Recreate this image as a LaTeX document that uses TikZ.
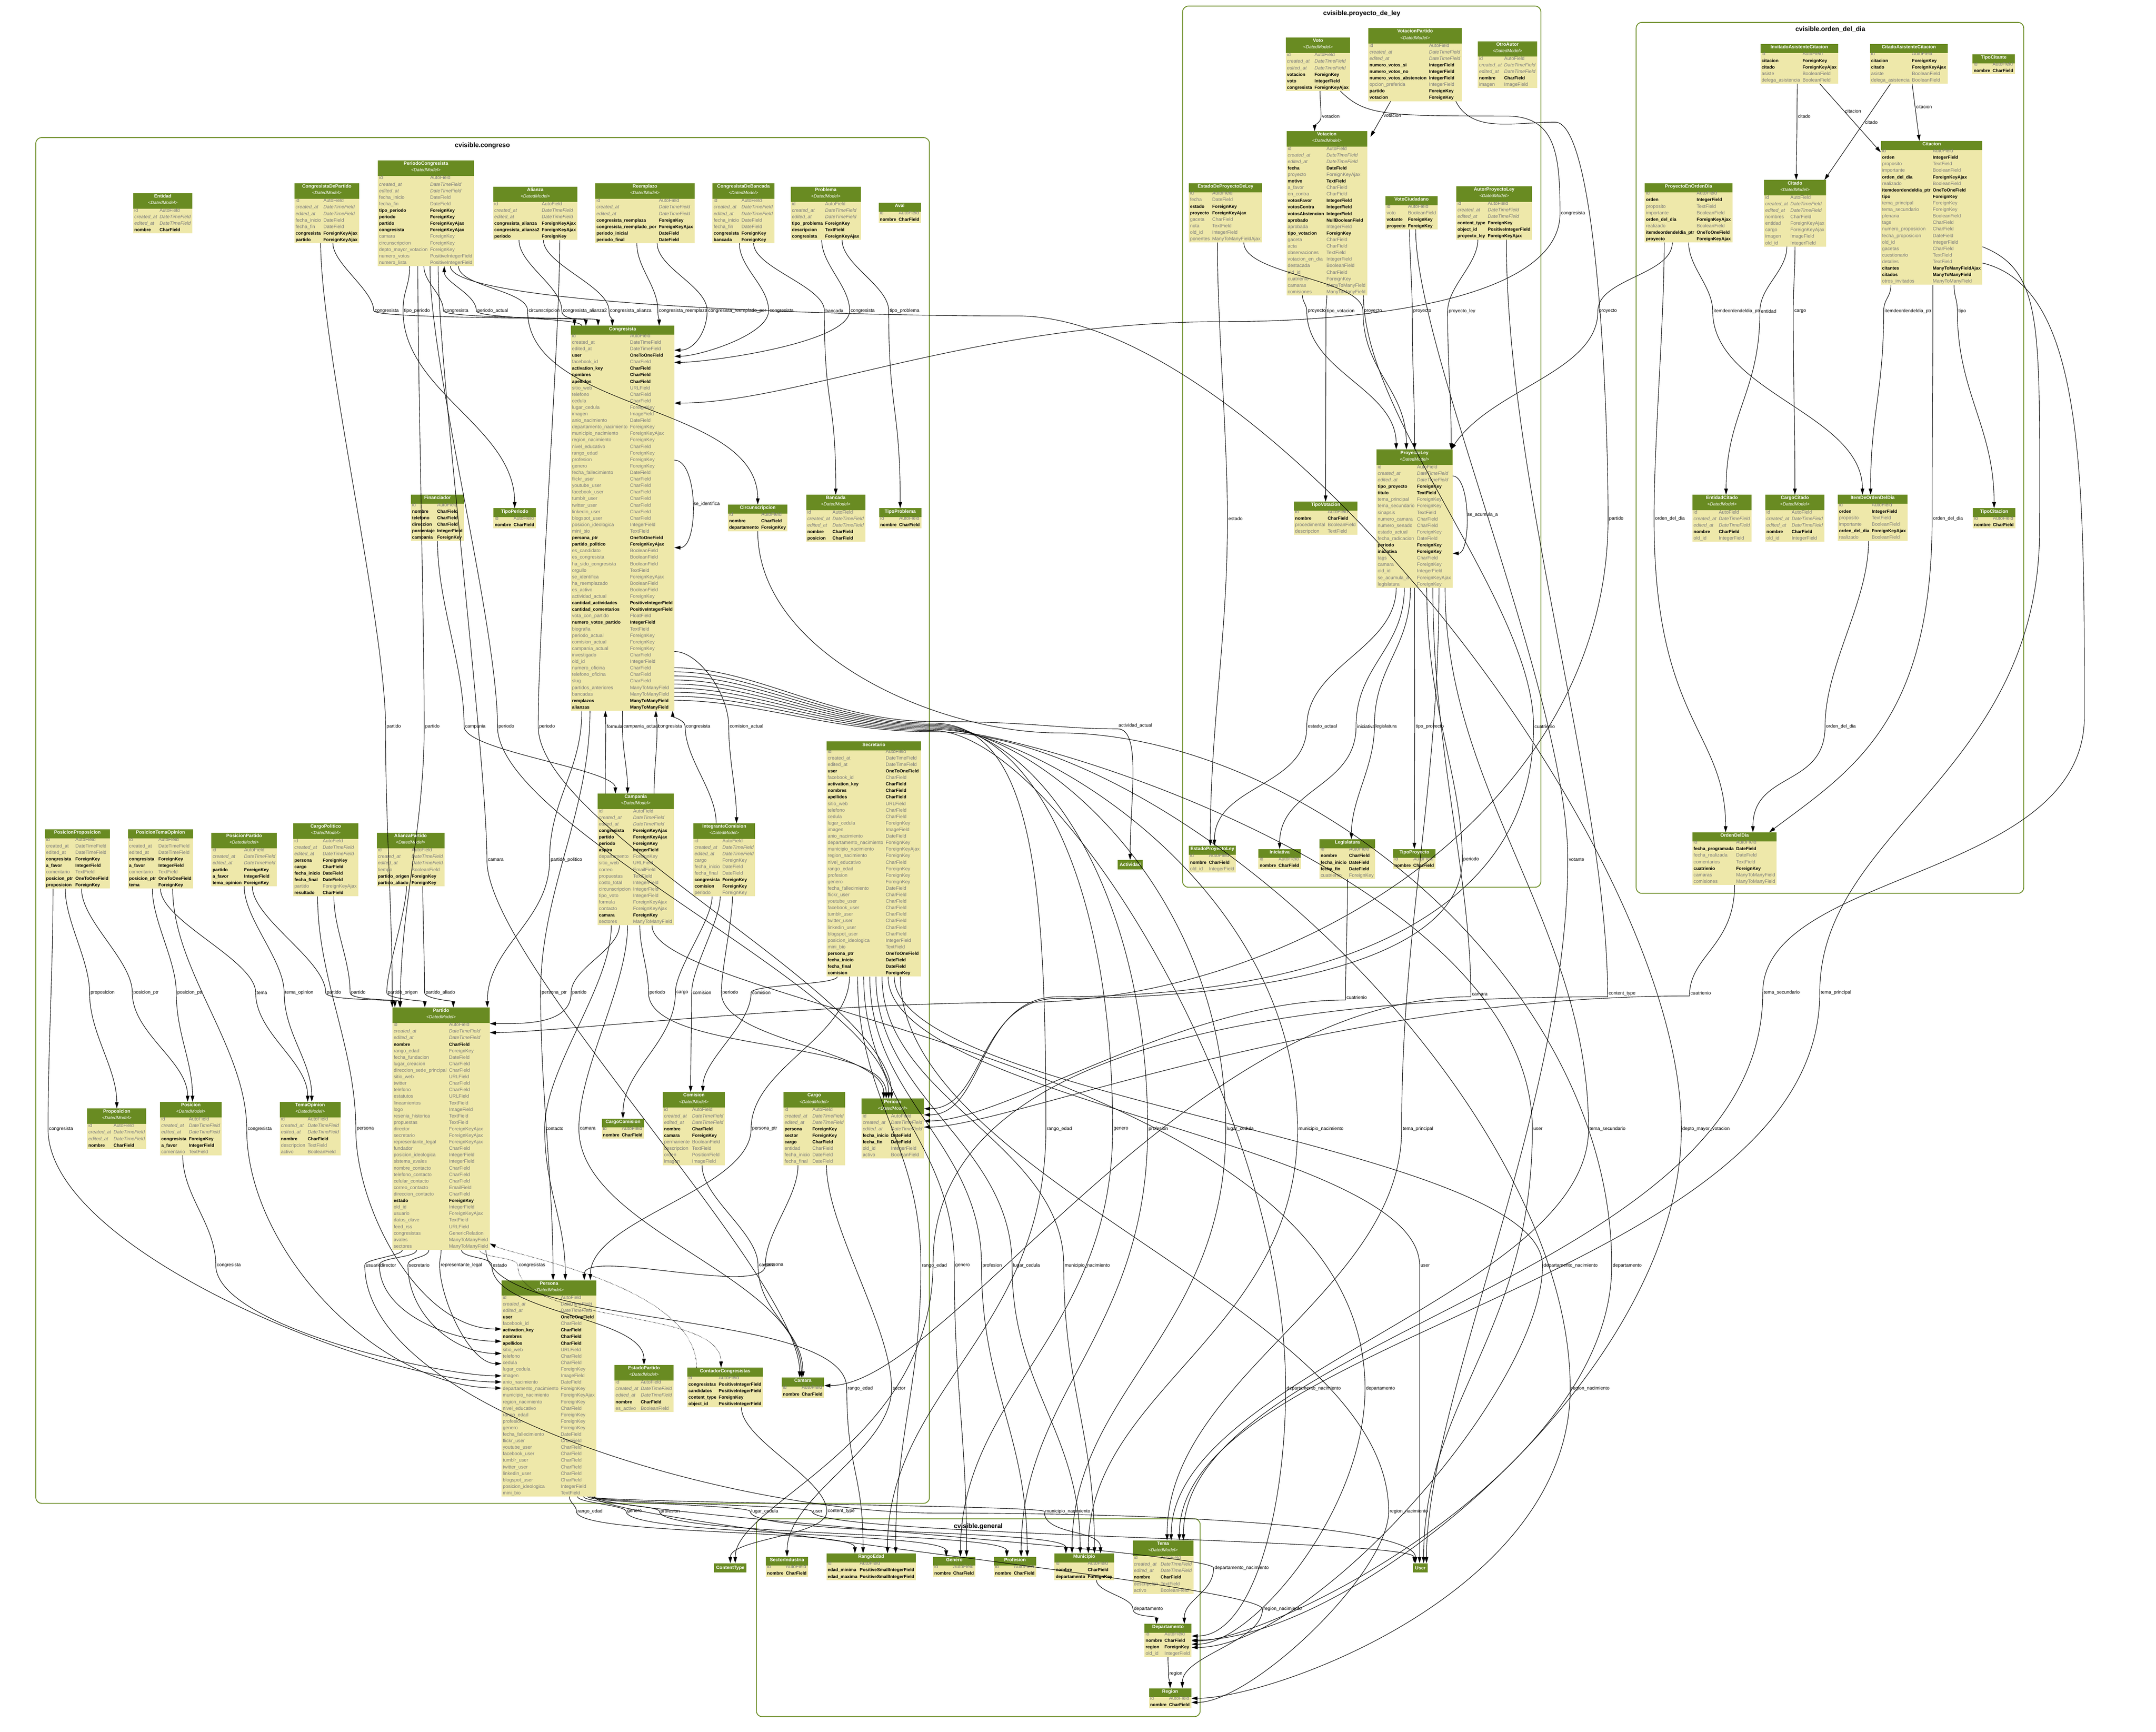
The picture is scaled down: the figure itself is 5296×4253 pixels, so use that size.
\documentclass[tikz,border=0pt]{standalone}
\usepackage{fontspec}
\setmainfont{Liberation Sans}
\usetikzlibrary{arrows.meta}
\definecolor{hdrc}{HTML}{698B22}
\definecolor{bodyc}{HTML}{EEE8AA}
\definecolor{fg}{HTML}{7B7B7B}
\newcommand\fgN{\color{fg}\fontsize{11.8}{16}\selectfont}
\newcommand\fbN{\fontsize{11}{16}\selectfont\bfseries}
\newcommand\mB[2]{{\fbN #1}&{\fbN #2}\\}
\newcommand\mG[2]{{\fgN #1}&{\fgN #2}\\}
\newcommand\mI[2]{{\fgN\itshape #1}&{\fgN\itshape #2}\\}
\newcommand\hA[1]{\multicolumn{2}{@{}c@{}}{\rule[-6pt]{0pt}{16pt}\color{white}\fontsize{11.5}{16}\selectfont\bfseries #1}\\}
\newcommand\hB[2]{\multicolumn{2}{@{}c@{}}{\rule[-3pt]{0pt}{14pt}\color{white}\fontsize{11.5}{16}\selectfont\bfseries #1}\\\multicolumn{2}{@{}c@{}}{\rule[-8pt]{0pt}{10pt}\color{white}\fontsize{11}{16}\selectfont\itshape <#2>}\\}
\newcommand\mtab[1]{\begin{tabular}{@{\hspace{3pt}}l@{\hspace{6pt}}l@{\hspace{4pt}}}#1\end{tabular}}
\newcommand\EdD[6]{\draw[fk] (#1) .. controls +(0,#5) and +(0,-#5) .. (#2) node[lbl]{#3} .. controls +(0,#6) and +(0,-#6) .. (#4);}
\newcommand\EdU[6]{\draw[fk] (#1) .. controls +(0,-#5) and +(0,#5) .. (#2) node[lbl]{#3} .. controls +(0,-#6) and +(0,#6) .. (#4);}
\newcommand\EdR[6]{\draw[fk] (#1) .. controls +(0,#5) and +(0,-#5) .. (#2) node[lbl]{#3} .. controls +(0,#6) and +(#6,0) .. (#4);}
\newcommand\EdL[6]{\draw[fk] (#1) .. controls +(0,#5) and +(0,-#5) .. (#2) node[lbl]{#3} .. controls +(0,#6) and +(-#6,0) .. (#4);}
% congresista bundle: start yshift, bundle y, label x, label y, label, target
\newcommand\EdB[6]{\draw[fk] ([yshift=-#1pt]cong.north east) .. controls +(200,0) and +(-250,0) .. (2290,#2) .. controls +(250,0) and +(0,-600) .. (#3,#4) node[lbl]{#5} .. controls +(0,500) and +(0,-400) .. (#6);}
\tikzset{
  tbl/.style={fill=bodyc, inner sep=0pt, anchor=north west, font=\fontsize{11.5}{16}\selectfont,
    path picture={\fill[hdrc] (path picture bounding box.north west) rectangle ([yshift=-#1]path picture bounding box.north east);}},
  tbl/.default=22pt,
  ext/.style={fill=hdrc, text=white, anchor=north west, font=\fontsize{11.5}{14}\selectfont\bfseries, inner xsep=5pt, inner ysep=0pt, minimum height=23pt},
  fk/.style={line width=1.2pt, -{Triangle[length=15pt,width=9pt]}},
  lbl/.style={anchor=west, inner sep=2pt, font=\fontsize{11.5}{13}\selectfont, text=black},
  lblup/.style={lbl, anchor=south west},
  clus/.style={draw=hdrc, line width=2pt, rounded corners=14pt},
  ctitle/.style={font=\fontsize{16}{20}\selectfont\bfseries}
}
\begin{document}
\catcode`\_=12
\newcommand\dated{\mG{id}{AutoField}\mI{created_at}{DateTimeField}\mI{edited_at}{DateTimeField}}
\newcommand\persbase{\mB{user}{OneToOneField}\mG{facebook_id}{CharField}\mB{activation_key}{CharField}\mB{nombres}{CharField}\mB{apellidos}{CharField}\mG{sitio_web}{URLField}\mG{telefono}{CharField}\mG{cedula}{CharField}\mG{lugar_cedula}{ForeignKey}\mG{imagen}{ImageField}\mG{anio_nacimiento}{DateField}\mG{departamento_nacimiento}{ForeignKey}\mG{municipio_nacimiento}{ForeignKeyAjax}\mG{region_nacimiento}{ForeignKey}\mG{nivel_educativo}{CharField}\mG{rango_edad}{ForeignKey}\mG{profesion}{ForeignKey}\mG{genero}{ForeignKey}\mG{fecha_fallecimiento}{DateField}\mG{flickr_user}{CharField}\mG{youtube_user}{CharField}\mG{facebook_user}{CharField}\mG{tumblr_user}{CharField}\mG{twitter_user}{CharField}\mG{linkedin_user}{CharField}\mG{blogspot_user}{CharField}\mG{posicion_ideologica}{IntegerField}\mG{mini_bio}{TextField}}
\begin{tikzpicture}[x=1pt,y=-1pt]
\useasboundingbox (0,0) rectangle (5296,4253);
\fill[white] (0,0) rectangle (5296,4253);
% ---------------- clusters
\draw[clus] (88,338) rectangle (2283,3692);
\node[ctitle] (tcong) at (1185,358) {cvisible.congreso};
\draw[clus] (2905,15) rectangle (3785,2179);
\node[ctitle] (tproyc) at (3345,33) {cvisible.proyecto_de_ley};
\draw[clus] (4019,55) rectangle (4971,2194);
\node[ctitle] (tordc) at (4496,72) {cvisible.orden_del_dia};
\draw[clus] (1858,3730) rectangle (2948,4216);
\node[ctitle] (tgenc) at (2403,3749) {cvisible.general};
% ---------------- congreso tables
\node[tbl=38pt] (ent) at (327,474) {\mtab{\hB{Entidad}{DatedModel}\dated\mB{nombre}{CharField}}};
\node[tbl=38pt] (cdp) at (723,450) {\mtab{\hB{CongresistaDePartido}{DatedModel}\dated\mG{fecha_inicio}{DateField}\mG{fecha_fin}{DateField}\mB{congresista}{ForeignKeyAjax}\mB{partido}{ForeignKeyAjax}}};
\node[tbl=38pt] (pc) at (928,394) {\mtab{\hB{PeriodoCongresista}{DatedModel}\dated\mG{fecha_inicio}{DateField}\mG{fecha_fin}{DateField}\mB{tipo_periodo}{ForeignKey}\mB{periodo}{ForeignKey}\mB{partido}{ForeignKeyAjax}\mB{congresista}{ForeignKeyAjax}\mG{camara}{ForeignKey}\mG{circunscripcion}{ForeignKey}\mG{depto_mayor_votacion}{ForeignKey}\mG{numero_votos}{PositiveIntegerField}\mG{numero_lista}{PositiveIntegerField}}};
\node[tbl=38pt] (ali) at (1211,458) {\mtab{\hB{Alianza}{DatedModel}\dated\mB{congresista_alianza}{ForeignKeyAjax}\mB{congresista_alianza2}{ForeignKeyAjax}\mB{periodo}{ForeignKey}}};
\node[tbl=38pt] (ree) at (1462,450) {\mtab{\hB{Reemplazo}{DatedModel}\dated\mB{congresista_reemplaza}{ForeignKey}\mB{congresista_reemplado_por}{ForeignKeyAjax}\mB{periodo_inicial}{DateField}\mB{periodo_final}{DateField}}};
\node[tbl=38pt] (cdb) at (1750,450) {\mtab{\hB{CongresistaDeBancada}{DatedModel}\dated\mG{fecha_inicio}{DateField}\mG{fecha_fin}{DateField}\mB{congresista}{ForeignKey}\mB{bancada}{ForeignKey}}};
\node[tbl=38pt] (prob) at (1942,458) {\mtab{\hB{Problema}{DatedModel}\dated\mB{tipo_problema}{ForeignKey}\mB{descripcion}{TextField}\mB{congresista}{ForeignKeyAjax}}};
\node[tbl] (aval) at (2158,498) {\mtab{\hA{Aval}\mG{id}{AutoField}\mB{nombre}{CharField}}};
\node[tbl] (cong) at (1402,800) {\mtab{\hA{Congresista}\mG{id}{AutoField}\mG{created_at}{DateTimeField}\mG{edited_at}{DateTimeField}\persbase\mB{persona_ptr}{OneToOneField}\mB{partido_politico}{ForeignKeyAjax}\mG{es_candidato}{BooleanField}\mG{es_congresista}{BooleanField}\mG{ha_sido_congresista}{BooleanField}\mG{orgullo}{TextField}\mG{se_identifica}{ForeignKeyAjax}\mG{ha_reemplazado}{BooleanField}\mG{es_activo}{BooleanField}\mG{actividad_actual}{ForeignKey}\mB{cantidad_actividades}{PositiveIntegerField}\mB{cantidad_comentarios}{PositiveIntegerField}\mG{vota_con_partido}{FloatField}\mB{numero_votos_partido}{IntegerField}\mG{biografia}{TextField}\mG{periodo_actual}{ForeignKey}\mG{comision_actual}{ForeignKey}\mG{campania_actual}{ForeignKey}\mG{investigado}{CharField}\mG{old_id}{IntegerField}\mG{numero_oficina}{CharField}\mG{telefono_oficina}{CharField}\mG{slug}{CharField}\mG{partidos_anteriores}{ManyToManyField}\mG{bancadas}{ManyToManyField}\mB{remplazos}{ManyToManyField}\mB{alianzas}{ManyToManyField}}};
\node[tbl] (fin) at (1009,1215) {\mtab{\hA{Financiador}\mG{id}{AutoField}\mB{nombre}{CharField}\mB{telefono}{CharField}\mB{direccion}{CharField}\mB{porcentaje}{IntegerField}\mB{campania}{ForeignKey}}};
\node[tbl] (tper) at (1212,1248) {\mtab{\hA{TipoPeriodo}\mG{id}{AutoField}\mB{nombre}{CharField}}};
\node[tbl] (circ) at (1788,1239) {\mtab{\hA{Circunscripcion}\mG{id}{AutoField}\mB{nombre}{CharField}\mB{departamento}{ForeignKey}}};
\node[tbl=38pt] (banc) at (1980,1215) {\mtab{\hB{Bancada}{DatedModel}\dated\mB{nombre}{CharField}\mB{posicion}{CharField}}};
\node[tbl] (tprob) at (2159,1248) {\mtab{\hA{TipoProblema}\mG{id}{AutoField}\mB{nombre}{CharField}}};
\node[tbl=38pt] (camp) at (1468,1949) {\mtab{\hB{Campania}{DatedModel}\dated\mB{congresista}{ForeignKeyAjax}\mB{partido}{ForeignKeyAjax}\mB{periodo}{ForeignKey}\mB{aspira}{IntegerField}\mG{departamento}{ForeignKey}\mG{sitio_web}{URLField}\mG{correo}{EmailField}\mG{propuestas}{TextField}\mG{costo_total}{IntegerField}\mG{circunscripcion}{IntegerField}\mG{tipo_voto}{IntegerField}\mG{formula}{ForeignKeyAjax}\mG{contacto}{ForeignKeyAjax}\mB{camara}{ForeignKey}\mG{sectores}{ManyToManyField}}};
\node[tbl=38pt] (icom) at (1703,2022) {\mtab{\hB{IntegranteComision}{DatedModel}\dated\mG{cargo}{ForeignKey}\mG{fecha_inicio}{DateField}\mG{fecha_final}{DateField}\mB{congresista}{ForeignKey}\mB{comision}{ForeignKey}\mG{periodo}{ForeignKey}}};
\node[tbl] (sec) at (2030,1821) {\mtab{\hA{Secretario}\mG{id}{AutoField}\mG{created_at}{DateTimeField}\mG{edited_at}{DateTimeField}\persbase\mB{persona_ptr}{OneToOneField}\mB{fecha_inicio}{DateField}\mB{fecha_final}{DateField}\mB{comision}{ForeignKey}}};
\node[tbl] (pprop) at (110,2037) {\mtab{\hA{PosicionProposicion}\mG{id}{AutoField}\mG{created_at}{DateTimeField}\mG{edited_at}{DateTimeField}\mB{congresista}{ForeignKey}\mB{a_favor}{IntegerField}\mG{comentario}{TextField}\mB{posicion_ptr}{OneToOneField}\mB{proposicion}{ForeignKey}}};
\node[tbl] (ptem) at (314,2037) {\mtab{\hA{PosicionTemaOpinion}\mG{id}{AutoField}\mG{created_at}{DateTimeField}\mG{edited_at}{DateTimeField}\mB{congresista}{ForeignKey}\mB{a_favor}{IntegerField}\mG{comentario}{TextField}\mB{posicion_ptr}{OneToOneField}\mB{tema}{ForeignKey}}};
\node[tbl=38pt] (ppar) at (519,2045) {\mtab{\hB{PosicionPartido}{DatedModel}\dated\mB{partido}{ForeignKey}\mB{a_favor}{IntegerField}\mB{tema_opinion}{ForeignKey}}};
\node[tbl=38pt] (cpol) at (720,2022) {\mtab{\hB{CargoPolitico}{DatedModel}\dated\mB{persona}{ForeignKey}\mB{cargo}{CharField}\mB{fecha_inicio}{DateField}\mB{fecha_final}{DateField}\mG{partido}{ForeignKeyAjax}\mB{resultado}{CharField}}};
\node[tbl=38pt] (apar) at (925,2045) {\mtab{\hB{AlianzaPartido}{DatedModel}\dated\mG{tiempo}{BooleanField}\mB{partido_origen}{ForeignKey}\mB{partido_aliado}{ForeignKey}}};
\node[tbl=38pt] (prop) at (214,2722) {\mtab{\hB{Proposicion}{DatedModel}\dated\mB{nombre}{CharField}}};
\node[tbl=38pt] (pos) at (393,2706) {\mtab{\hB{Posicion}{DatedModel}\dated\mB{congresista}{ForeignKey}\mB{a_favor}{IntegerField}\mG{comentario}{TextField}}};
\node[tbl=38pt] (temop) at (687,2706) {\mtab{\hB{TemaOpinion}{DatedModel}\dated\mB{nombre}{CharField}\mG{descripcion}{TextField}\mG{activo}{BooleanField}}};
\node[tbl=38pt] (part) at (964,2474) {\mtab{\hB{Partido}{DatedModel}\dated\mB{nombre}{CharField}\mG{rango_edad}{ForeignKey}\mG{fecha_fundacion}{DateField}\mG{lugar_creacion}{CharField}\mG{direccion_sede_principal}{CharField}\mG{sitio_web}{URLField}\mG{twitter}{CharField}\mG{telefono}{CharField}\mG{estatutos}{URLField}\mG{lineamientos}{TextField}\mG{logo}{ImageField}\mG{resenia_historica}{TextField}\mG{propuestas}{TextField}\mG{director}{ForeignKeyAjax}\mG{secretario}{ForeignKeyAjax}\mG{representante_legal}{ForeignKeyAjax}\mG{fundador}{CharField}\mG{posicion_ideologica}{IntegerField}\mG{sistema_avales}{IntegerField}\mG{nombre_contacto}{CharField}\mG{telefono_contacto}{CharField}\mG{celular_contacto}{CharField}\mG{correo_contacto}{EmailField}\mG{direccion_contacto}{CharField}\mB{estado}{ForeignKey}\mG{old_id}{IntegerField}\mG{usuario}{ForeignKeyAjax}\mG{datos_clave}{TextField}\mG{feed_rss}{URLField}\mG{congresistas}{GenericRelation}\mG{avales}{ManyToManyField}\mG{sectores}{ManyToManyField}}};
\node[tbl] (ccom) at (1478,2747) {\mtab{\hA{CargoComision}\mG{id}{AutoField}\mB{nombre}{CharField}}};
\node[tbl=38pt] (com) at (1628,2682) {\mtab{\hB{Comision}{DatedModel}\dated\mB{nombre}{CharField}\mB{camara}{ForeignKey}\mG{permanente}{BooleanField}\mG{descripcion}{TextField}\mG{orden}{PositionField}\mG{imagen}{ImageField}}};
\node[tbl=38pt] (cargo) at (1924,2682) {\mtab{\hB{Cargo}{DatedModel}\dated\mB{persona}{ForeignKey}\mB{sector}{ForeignKey}\mB{cargo}{CharField}\mG{entidad}{CharField}\mG{fecha_inicio}{DateField}\mG{fecha_final}{DateField}}};
\node[tbl=38pt] (per) at (2116,2698) {\mtab{\hB{Periodo}{DatedModel}\dated\mB{fecha_inicio}{DateField}\mB{fecha_fin}{DateField}\mG{old_id}{IntegerField}\mG{activo}{BooleanField}}};
\node[tbl=38pt] (pers) at (1232,3144) {\mtab{\hB{Persona}{DatedModel}\dated\persbase}};
\node[tbl=38pt] (epar) at (1509,3352) {\mtab{\hB{EstadoPartido}{DatedModel}\dated\mB{nombre}{CharField}\mG{es_activo}{BooleanField}}};
\node[tbl] (ccong) at (1688,3359) {\mtab{\hA{ContadorCongresistas}\mG{id}{AutoField}\mB{congresistas}{PositiveIntegerField}\mB{candidatos}{PositiveIntegerField}\mB{content_type}{ForeignKey}\mB{object_id}{PositiveIntegerField}}};
\node[tbl] (cam) at (1920,3383) {\mtab{\hA{Camara}\mG{id}{AutoField}\mB{nombre}{CharField}}};
% external
\node[ext] (act) at (2745,2112) {Actividad};
\node[ext] (ctype) at (1754,3839) {ContentType};
\node[ext] (user) at (3471,3839) {User};
% ---------------- general
\node[tbl] (sind) at (1881,3823) {\mtab{\hA{SectorIndustria}\mG{id}{AutoField}\mB{nombre}{CharField}}};
\node[tbl] (redad) at (2030,3815) {\mtab{\hA{RangoEdad}\mG{id}{AutoField}\mB{edad_minima}{PositiveSmallIntegerField}\mB{edad_maxima}{PositiveSmallIntegerField}}};
\node[tbl] (gen) at (2292,3823) {\mtab{\hA{Genero}\mG{id}{AutoField}\mB{nombre}{CharField}}};
\node[tbl] (prof) at (2441,3823) {\mtab{\hA{Profesion}\mG{id}{AutoField}\mB{nombre}{CharField}}};
\node[tbl] (mun) at (2590,3815) {\mtab{\hA{Municipio}\mG{id}{AutoField}\mB{nombre}{CharField}\mB{departamento}{ForeignKey}}};
\node[tbl=38pt] (tema) at (2782,3783) {\mtab{\hB{Tema}{DatedModel}\dated\mB{nombre}{CharField}\mG{descripcion}{TextField}\mG{activo}{BooleanField}}};
\node[tbl] (dep) at (2811,3988) {\mtab{\hA{Departamento}\mG{id}{AutoField}\mB{nombre}{CharField}\mB{region}{ForeignKey}\mG{old_id}{IntegerField}}};
\node[tbl] (reg) at (2822,4146) {\mtab{\hA{Region}\mG{id}{AutoField}\mB{nombre}{CharField}}};
% ---------------- proyecto_de_ley
\node[tbl=38pt] (voto) at (3158,92) {\mtab{\hB{Voto}{DatedModel}\dated\mB{votacion}{ForeignKey}\mB{voto}{IntegerField}\mB{congresista}{ForeignKeyAjax}}};
\node[tbl=38pt] (vpar) at (3361,69) {\mtab{\hB{VotacionPartido}{DatedModel}\dated\mB{numero_votos_si}{IntegerField}\mB{numero_votos_no}{IntegerField}\mB{numero_votos_abstencion}{IntegerField}\mG{opcion_preferida}{IntegerField}\mB{partido}{ForeignKey}\mB{votacion}{ForeignKey}}};
\node[tbl=38pt] (oaut) at (3630,101) {\mtab{\hB{OtroAutor}{DatedModel}\dated\mB{nombre}{CharField}\mG{imagen}{ImageField}}};
\node[tbl=38pt] (vtc) at (3160,322) {\mtab{\hB{Votacion}{DatedModel}\dated\mB{fecha}{DateField}\mG{proyecto}{ForeignKeyAjax}\mB{motivo}{TextField}\mG{a_favor}{CharField}\mG{en_contra}{CharField}\mB{votosFavor}{IntegerField}\mB{votosContra}{IntegerField}\mB{votosAbstencion}{IntegerField}\mB{aprobado}{NullBooleanField}\mG{aprobada}{IntegerField}\mB{tipo_votacion}{ForeignKey}\mG{gaceta}{CharField}\mG{acta}{CharField}\mG{observaciones}{TextField}\mG{votacion_en_dia}{IntegerField}\mG{destacada}{BooleanField}\mG{old_id}{CharField}\mG{cuatrienio}{ForeignKey}\mG{camaras}{ManyToManyField}\mG{comisiones}{ManyToManyField}}};
\node[tbl] (edpl) at (2920,450) {\mtab{\hA{EstadoDeProyectoDeLey}\mG{id}{AutoField}\mG{fecha}{DateField}\mB{estado}{ForeignKey}\mB{proyecto}{ForeignKeyAjax}\mG{gaceta}{CharField}\mG{nota}{TextField}\mG{old_id}{IntegerField}\mG{ponentes}{ManyToManyFieldAjax}}};
\node[tbl] (vciu) at (3403,482) {\mtab{\hA{VotoCiudadano}\mG{id}{AutoField}\mG{voto}{BooleanField}\mB{votante}{ForeignKey}\mB{proyecto}{ForeignKey}}};
\node[tbl=38pt] (apl) at (3577,457) {\mtab{\hB{AutorProyectoLey}{DatedModel}\dated\mB{content_type}{ForeignKey}\mB{object_id}{PositiveIntegerField}\mB{proyecto_ley}{ForeignKeyAjax}}};
\node[tbl=38pt] (pley) at (3381,1104) {\mtab{\hB{ProyectoLey}{DatedModel}\dated\mB{tipo_proyecto}{ForeignKey}\mB{titulo}{TextField}\mG{tema_principal}{ForeignKey}\mG{tema_secundario}{ForeignKey}\mG{sinapsis}{TextField}\mG{numero_camara}{CharField}\mG{numero_senado}{CharField}\mG{estado_actual}{ForeignKey}\mG{fecha_radicacion}{DateField}\mB{periodo}{ForeignKey}\mB{iniciativa}{ForeignKey}\mG{tags}{CharField}\mG{camara}{ForeignKey}\mG{old_id}{IntegerField}\mG{se_acumula_a}{ForeignKeyAjax}\mG{legislatura}{ForeignKey}}};
\node[tbl] (tvot) at (3178,1232) {\mtab{\hA{TipoVotacion}\mG{id}{AutoField}\mB{nombre}{CharField}\mG{procedimental}{BooleanField}\mG{descripcion}{TextField}}};
\node[tbl] (epl) at (2920,2077) {\mtab{\hA{EstadoProyectoLey}\mG{id}{AutoField}\mB{nombre}{CharField}\mG{old_id}{IntegerField}}};
\node[tbl] (inic) at (3091,2085) {\mtab{\hA{Iniciativa}\mG{id}{AutoField}\mB{nombre}{CharField}}};
\node[tbl] (leg) at (3241,2061) {\mtab{\hA{Legislatura}\mG{id}{AutoField}\mB{nombre}{CharField}\mB{fecha_inicio}{DateField}\mB{fecha_fin}{DateField}\mG{cuatrienio}{ForeignKey}}};
\node[tbl] (tproy) at (3422,2085) {\mtab{\hA{TipoProyecto}\mG{id}{AutoField}\mB{nombre}{CharField}}};
% ---------------- orden_del_dia
\node[tbl] (iac) at (4324,108) {\mtab{\hA{InvitadoAsistenteCitacion}\mG{id}{AutoField}\mB{citacion}{ForeignKey}\mB{citado}{ForeignKeyAjax}\mG{asiste}{BooleanField}\mG{delega_asistencia}{BooleanField}}};
\node[tbl] (cac) at (4593,108) {\mtab{\hA{CitadoAsistenteCitacion}\mG{id}{AutoField}\mB{citacion}{ForeignKey}\mB{citado}{ForeignKeyAjax}\mG{asiste}{BooleanField}\mG{delega_asistencia}{BooleanField}}};
\node[tbl] (tcit) at (4845,133) {\mtab{\hA{TipoCitante}\mG{id}{AutoField}\mB{nombre}{CharField}}};
\node[tbl] (cita) at (4620,346) {\mtab{\hA{Citacion}\mG{id}{AutoField}\mB{orden}{IntegerField}\mG{proposito}{TextField}\mG{importante}{BooleanField}\mB{orden_del_dia}{ForeignKeyAjax}\mG{realizado}{BooleanField}\mB{itemdeordendeldia_ptr}{OneToOneField}\mB{tipo}{ForeignKey}\mG{tema_principal}{ForeignKey}\mG{tema_secundario}{ForeignKey}\mG{plenaria}{BooleanField}\mG{tags}{CharField}\mG{numero_proposicion}{CharField}\mG{fecha_proposicion}{DateField}\mG{old_id}{IntegerField}\mG{gacetas}{CharField}\mG{cuestionario}{TextField}\mG{detalles}{TextField}\mB{citantes}{ManyToManyFieldAjax}\mB{citados}{ManyToManyField}\mG{otros_invitados}{ManyToManyField}}};
\node[tbl=38pt] (citado) at (4333,442) {\mtab{\hB{Citado}{DatedModel}\dated\mG{nombres}{CharField}\mG{entidad}{ForeignKeyAjax}\mG{cargo}{ForeignKeyAjax}\mG{imagen}{ImageField}\mG{old_id}{IntegerField}}};
\node[tbl] (pod) at (4040,450) {\mtab{\hA{ProyectoEnOrdenDia}\mG{id}{AutoField}\mB{orden}{IntegerField}\mG{proposito}{TextField}\mG{importante}{BooleanField}\mB{orden_del_dia}{ForeignKeyAjax}\mG{realizado}{BooleanField}\mB{itemdeordendeldia_ptr}{OneToOneField}\mB{proyecto}{ForeignKeyAjax}}};
\node[tbl=38pt] (entc) at (4157,1215) {\mtab{\hB{EntidadCitado}{DatedModel}\dated\mB{nombre}{CharField}\mG{old_id}{IntegerField}}};
\node[tbl=38pt] (carc) at (4336,1215) {\mtab{\hB{CargoCitado}{DatedModel}\dated\mB{nombre}{CharField}\mG{old_id}{IntegerField}}};
\node[tbl] (item) at (4514,1215) {\mtab{\hA{ItemDeOrdenDelDia}\mG{id}{AutoField}\mB{orden}{IntegerField}\mG{proposito}{TextField}\mG{importante}{BooleanField}\mB{orden_del_dia}{ForeignKeyAjax}\mG{realizado}{BooleanField}}};
\node[tbl] (tcitn) at (4846,1248) {\mtab{\hA{TipoCitacion}\mG{id}{AutoField}\mB{nombre}{CharField}}};
\node[tbl] (odd) at (4157,2044) {\mtab{\hA{OrdenDelDia}\mG{id}{AutoField}\mB{fecha_programada}{DateField}\mG{fecha_realizada}{DateField}\mG{comentarios}{TextField}\mB{cuatrienio}{ForeignKey}\mG{camaras}{ManyToManyField}\mG{comisiones}{ManyToManyField}}};
% =============== EDGES: congreso top row
\EdD{[xshift=15pt]cdp.south}{918,763}{congresista}{[xshift=-90pt]cong.north}{50}{20}
\EdD{[xshift=-40pt]pc.south}{990,763}{tipo_periodo}{tper.north}{50}{200}
\EdD{[xshift=-5pt]pc.south}{1089,763}{congresista}{[xshift=-60pt]cong.north}{40}{20}
\EdU{[xshift=-100pt]cong.north}{1170,763}{periodo_actual}{[xshift=45pt]pc.south}{20}{40}
\EdD{[xshift=80pt]pc.south}{1296,763}{circunscripcion}{circ.north}{50}{250}
\EdD{[xshift=-40pt]ali.south}{1380,763}{congresista_alianza2}{[xshift=-118pt]cong.north}{60}{20}
\EdD{[xshift=20pt]ali.south}{1496,763}{congresista_alianza}{[xshift=-25pt]cong.north}{60}{20}
\EdD{[xshift=-20pt]ree.south}{1616,763}{congresista_reemplaza}{[xshift=90pt]cong.north}{60}{20}
\EdR{[xshift=30pt]ree.south}{1737,763}{congresista_reemplado_por}{[yshift=-60pt]cong.north east}{60}{50}
\EdR{[xshift=-10pt]cdb.south}{1888,763}{congresista}{[yshift=-75pt]cong.north east}{60}{60}
\EdD{[xshift=25pt]cdb.south}{2025,763}{bancada}{banc.north}{60}{250}
\EdR{[xshift=-10pt]prob.south}{2087,763}{congresista}{[yshift=-90pt]cong.north east}{60}{80}
\EdD{[xshift=40pt]prob.south}{2183,763}{tipo_problema}{tprob.north}{60}{250}
\EdD{[xshift=-15pt]cdp.south}{947,1784}{partido}{[xshift=-120pt]part.north}{250}{250}
\EdD{[xshift=-20pt]pc.south}{1042,1784}{partido}{[xshift=-100pt]part.north}{250}{250}
\EdD{fin.south}{1140,1784}{campania}{[xshift=-50pt]camp.north}{150}{60}
\EdD{[xshift=10pt]pc.south}{1222,1784}{periodo}{[xshift=-10pt]per.north}{250}{250}
\EdD{[xshift=60pt]ali.south}{1322,1784}{periodo}{[xshift=-3pt]per.north}{250}{250}
\EdD{[xshift=30pt]pc.south}{1196,2112}{camara}{[xshift=-8pt]cam.north}{250}{250}
\draw[fk] ([xshift=60pt]pc.south) .. controls +(0,90) and +(-500,0) .. (2500,776) .. controls +(600,0) and +(0,-700) .. (4130,2773) node[lbl]{depto_mayor_votacion} .. controls +(0,600) and +(400,0) .. ([yshift=-40pt]dep.north east);
% Congresista own relations
\draw[fk] ([yshift=-330pt]cong.north east) .. controls +(60,0) and +(60,0) .. node[lbl,pos=0.5]{se_identifica} ([yshift=-545pt]cong.north east);
\EdD{[xshift=-100pt]cong.south}{1350,2112}{partido_politico}{[xshift=-6pt]part.north east}{150}{150}
\EdD{[xshift=-80pt]cong.south}{1328,2438}{persona_ptr}{[xshift=10pt]pers.north}{250}{250}
\EdD{cong.south}{1529,1784}{campania_actual}{[xshift=-20pt]camp.north}{15}{60}
\EdU{[xshift=-75pt]camp.north}{1488,1784}{formula}{[xshift=-42pt]cong.south}{60}{15}
\EdU{[xshift=45pt]camp.north}{1614,1784}{congresista}{[xshift=82pt]cong.south}{60}{15}
\EdU{[xshift=-20pt]icom.north}{1683,1784}{congresista}{[xshift=-4pt]cong.south east}{80}{15}
\draw[fk] ([yshift=-800pt]cong.north east) .. controls +(60,0) and +(0,-80) .. (1790,1784) node[lbl]{comision_actual} .. controls +(0,80) and +(0,-80) .. ([xshift=30pt]icom.north);
\draw[fk] ([yshift=-840pt]cong.north east) .. controls +(200,0) and +(-250,0) .. (2290,1772) .. controls +(250,0) and +(-150,0) .. (2745,1790) node[lblup]{actividad_actual} .. controls +(60,0) and +(0,-150) .. (act.north);
\EdB{850}{1776}{2569}{2773}{rango_edad}{[xshift=40pt]redad.north}
\EdB{860}{1779}{2733}{2773}{genero}{[xshift=15pt]gen.north}
\EdB{870}{1782}{2819}{2773}{profesion}{[xshift=15pt]prof.north}
\EdB{880}{1785}{3011}{2773}{lugar_cedula}{[xshift=-30pt]mun.north}
\EdB{890}{1788}{3187}{2773}{municipio_nacimiento}{[xshift=10pt]mun.north}
\EdB{900}{1791}{3764}{2773}{user}{[xshift=8pt]user.north}
\draw[fk] ([yshift=-910pt]cong.north east) .. controls +(200,0) and +(-250,0) .. (2290,1794) .. controls +(300,0) and +(0,-700) .. (3158,3410) node[lbl]{departamento_nacimiento} .. controls +(0,300) and +(150,0) .. ([yshift=-30pt]dep.north east);
\draw[fk] ([yshift=-920pt]cong.north east) .. controls +(200,0) and +(-250,0) .. (2290,1797) .. controls +(600,0) and +(0,-700) .. (3857,3410) node[lbl]{region_nacimiento} .. controls +(0,500) and +(200,0) .. ([yshift=-25pt]reg.north east);
% Campania, IntegranteComision, Secretario
\EdR{[xshift=-40pt]camp.south}{1403,2438}{partido}{[yshift=-40pt]part.north east}{60}{80}
\EdD{[xshift=10pt]camp.south}{1593,2438}{periodo}{[xshift=-16pt]per.north}{60}{150}
\EdD{[xshift=-60pt]camp.south}{1338,2772}{contacto}{[xshift=40pt]pers.north}{150}{150}
\EdD{[xshift=-20pt]camp.south}{1422,2772}{camara}{[xshift=-4pt]cam.north}{150}{250}
\draw[fk] ([xshift=40pt]camp.south) .. controls +(0,200) and +(0,-800) .. (3353,3410) node[lbl]{departamento} .. controls +(0,300) and +(150,0) .. ([yshift=-50pt]dep.north east);
\EdD{[xshift=-30pt]icom.south}{1659,2438}{cargo}{ccom.north}{60}{120}
\EdD{[xshift=-10pt]icom.south}{1699,2438}{comision}{[xshift=-8pt]com.north}{60}{80}
\EdD{[xshift=20pt]icom.south}{1772,2438}{periodo}{[xshift=-22pt]per.north}{60}{120}
\EdD{[xshift=-90pt]sec.south}{1845,2438}{comision}{[xshift=22pt]com.north}{20}{80}
\EdD{[xshift=-60pt]sec.south}{1845,2772}{persona_ptr}{[xshift=-15pt]pers.north east}{150}{150}
\EdD{[xshift=-40pt]sec.south}{2262,3108}{rango_edad}{[xshift=60pt]redad.north}{300}{300}
\EdD{[xshift=-25pt]sec.south}{2344,3108}{genero}{[xshift=30pt]gen.north}{300}{300}
\EdD{[xshift=-10pt]sec.south}{2411,3108}{profesion}{[xshift=30pt]prof.north}{300}{300}
\EdD{[xshift=5pt]sec.south}{2486,3108}{lugar_cedula}{[xshift=-10pt]mun.north}{300}{300}
\EdD{[xshift=20pt]sec.south}{2613,3108}{municipio_nacimiento}{[xshift=25pt]mun.north}{300}{300}
\EdD{[xshift=35pt]sec.south}{3487,3108}{user}{[xshift=-2pt]user.north}{300}{300}
\EdR{[xshift=50pt]sec.south}{3789,3108}{departamento_nacimiento}{[yshift=-58pt]dep.north east}{300}{300}
\EdR{[xshift=65pt]sec.south}{3411,3712}{region_nacimiento}{[yshift=-35pt]reg.north east}{500}{150}
\draw[fk] (circ.south) .. controls +(0,300) and +(-300,0) .. (2600,1800) .. controls +(600,0) and +(0,-700) .. (3959,3108) node[lbl]{departamento} .. controls +(0,500) and +(200,0) .. ([yshift=-42pt]dep.north east);
% bottom-left row
\EdD{[xshift=-30pt]pprop.south}{220,2438}{proposicion}{prop.north}{80}{100}
\EdD{[xshift=10pt]pprop.south}{325,2438}{posicion_ptr}{[xshift=-8pt]pos.north}{80}{100}
\EdL{[xshift=-60pt]pprop.south}{118,2773}{congresista}{[yshift=-250pt]pers.north west}{200}{300}
\EdD{[xshift=-20pt]ptem.south}{433,2438}{posicion_ptr}{[xshift=4pt]pos.north}{80}{100}
\EdD{ptem.south}{628,2438}{tema}{[xshift=-6pt]temop.north}{80}{100}
\EdL{[xshift=30pt]ptem.south}{606,2773}{congresista}{[yshift=-265pt]pers.north west}{200}{300}
\EdD{ppar.south}{698,2438}{tema_opinion}{[xshift=4pt]temop.north}{80}{100}
\EdD{[xshift=20pt]ppar.south}{800,2438}{partido}{[xshift=6pt]part.north west}{80}{20}
\EdL{[xshift=-20pt]cpol.south}{874,2773}{persona}{[yshift=-120pt]pers.north west}{200}{200}
\EdD{[xshift=20pt]cpol.south}{860,2438}{partido}{[xshift=18pt]part.north west}{80}{20}
\EdD{[xshift=-10pt]apar.south}{950,2438}{partido_origen}{[xshift=-40pt]part.north}{60}{15}
\EdD{[xshift=30pt]apar.south}{1043,2438}{partido_aliado}{[xshift=30pt]part.north}{60}{15}
\EdL{[xshift=-20pt]pos.south}{530,3107}{congresista}{[yshift=-235pt]pers.north west}{100}{150}
% Partido bottom
\draw[fk] ([xshift=-95pt]part.south) .. controls +(0,15) and +(0,-15) .. (896,3107) node[lbl]{usuario} .. controls +(0,350) and +(-500,0) .. (2300,3716) .. controls +(700,0) and +(0,-80) .. ([xshift=-12pt]user.north);
\EdL{[xshift=-60pt]part.south}{932,3107}{director}{[yshift=-150pt]pers.north west}{20}{120}
\EdL{[xshift=-30pt]part.south}{1002,3107}{secretario}{[yshift=-180pt]pers.north west}{20}{120}
\EdL{part.south}{1080,3107}{representante_legal}{[yshift=-205pt]pers.north west}{20}{80}
\EdD{[xshift=50pt]part.south}{1208,3107}{estado}{epar.north}{20}{120}
\draw[fk,dotted] ([xshift=95pt]part.south) .. controls +(0,20) and +(0,-20) .. (1272,3107) node[lbl]{congresistas} .. controls +(0,150) and +(0,-150) .. ([xshift=-10pt]ccong.north);
\draw[fk,dotted] ([xshift=-70pt]ccong.north) .. controls +(0,-200) and +(60,30) .. ([yshift=-580pt]part.north east);
\EdD{[xshift=110pt]part.south}{2080,3410}{rango_edad}{[xshift=-20pt]redad.north}{200}{200}
\EdD{[xshift=-40pt]cargo.south}{1880,3107}{persona}{[xshift=-30pt]pers.north east}{80}{80}
\EdD{[xshift=20pt]com.south}{1862,3107}{camara}{cam.north}{80}{120}
\EdD{[xshift=30pt]cargo.south}{2190,3410}{sector}{sind.north}{150}{150}
% Persona to general
\EdD{[xshift=50pt]pers.south}{1416,3712}{rango_edad}{[xshift=-40pt]redad.north}{15}{60}
\EdD{[xshift=70pt]pers.south}{1538,3712}{genero}{[xshift=-20pt]gen.north}{15}{60}
\EdD{[xshift=85pt]pers.south}{1620,3712}{profesion}{[xshift=-20pt]prof.north}{15}{60}
\EdD{[xshift=95pt]pers.south}{1843,3712}{lugar_cedula}{[xshift=-45pt]mun.north}{15}{60}
\EdD{[xshift=105pt]pers.south}{1995,3712}{user}{[xshift=-15pt]user.north}{15}{60}
\EdD{[xshift=100pt]pers.south}{2565,3712}{municipio_nacimiento}{[xshift=40pt]mun.north}{15}{60}
\EdD{[xshift=110pt]pers.south}{2981,3851}{departamento_nacimiento}{[xshift=40pt]dep.north}{40}{60}
\EdD{[xshift=112pt]pers.south}{3101,3952}{region_nacimiento}{[xshift=30pt]reg.north}{60}{80}
\EdD{[xshift=40pt]ccong.south}{2031,3712}{content_type}{ctype.north}{80}{60}
% general internal
\EdD{[xshift=30pt]mun.south}{2783,3952}{departamento}{[xshift=-28pt]dep.north}{30}{20}
\EdD{dep.south}{2870,4110}{region}{reg.north}{15}{15}
% =============== proyecto_de_ley
\EdD{[xshift=5pt]voto.south}{3245,286}{votacion}{[xshift=-30pt]vtc.north}{20}{15}
\draw[fk] ([xshift=-60pt]vpar.south) -- node[lbl,pos=0.4]{votacion} ([xshift=8pt,yshift=-14pt]vtc.north east);
\draw[fk] ([xshift=55pt]voto.south) .. controls +(60,60) and +(-300,0) .. (3700,285) .. controls +(120,0) and +(0,-150) .. (3832,524) node[lbl]{congresista} .. controls +(0,200) and +(400,0) .. (3000,790) .. controls +(-600,0) and +(300,0) .. ([yshift=-190pt]cong.north east);
\draw[fk] ([xshift=100pt]vpar.south) .. controls +(40,80) and +(-100,0) .. (3820,300) .. controls +(100,0) and +(0,-300) .. (3950,1274) node[lbl]{partido} .. controls +(0,700) and +(700,0) .. (2500,2462) .. controls +(-500,0) and +(150,0) .. ([yshift=-62pt]part.north east);
\EdD{[xshift=-60pt]vtc.south}{3210,764}{proyecto}{[xshift=-45pt]pley.north}{15}{150}
\EdD{vtc.south}{3257,764}{tipo_votacion}{tvot.north}{15}{150}
\EdD{[xshift=45pt]edpl.south}{3348,764}{proyecto}{[xshift=-20pt]pley.north}{80}{150}
\EdD{[xshift=-20pt]edpl.south}{3015,1274}{estado}{[xshift=-5pt]epl.north}{200}{300}
\EdD{[xshift=-5pt]vciu.south}{3469,764}{proyecto}{pley.north}{60}{150}
\draw[fk] ([xshift=10pt]vciu.south) .. controls +(0,300) and +(0,-400) .. (3851,2111) node[lbl]{votante} .. controls +(0,600) and +(0,-400) .. ([xshift=15pt]user.north);
\EdD{[xshift=-40pt]apl.south}{3556,764}{proyecto_ley}{[xshift=90pt]pley.north}{60}{150}
\draw[fk] ([xshift=30pt]apl.south) .. controls +(0,600) and +(0,-500) .. (3949,2448) node[lblup]{content_type} .. controls +(-900,0) and +(0,-500) .. (2292,3100) .. controls +(0,450) and +(0,-150) .. ([xshift=12pt]ctype.north);
\EdD{pley.south}{3475,1784}{tipo_proyecto}{tproy.north}{100}{100}
\EdD{[xshift=-45pt]pley.south}{3210,1784}{estado_actual}{[xshift=5pt]epl.north}{150}{150}
\EdD{[xshift=-25pt]pley.south}{3331,1784}{iniciativa}{inic.north}{150}{150}
\EdD{[xshift=-10pt]pley.south}{3376,1784}{legislatura}{[xshift=10pt]leg.north}{150}{100}
\draw[fk] ([yshift=-65pt]pley.north east) .. controls +(45,0) and +(45,0) .. node[lbl,pos=0.5]{se_acumula_a} ([yshift=-255pt]pley.north east);
\draw[fk] ([xshift=30pt]pley.south) .. controls +(0,300) and +(0,-200) .. (3592,2111) node[lbl]{periodo} .. controls +(0,250) and +(500,0) .. (2600,2452) .. controls +(-200,0) and +(150,0) .. ([yshift=-25pt]per.north east);
\draw[fk] ([xshift=45pt]pley.south) .. controls +(0,400) and +(0,-300) .. (3613,2448) node[lblup]{camara} .. controls +(-700,0) and +(300,0) .. ([yshift=-20pt]cam.north east);
\EdD{[xshift=60pt]pley.south}{3443,2773}{tema_principal}{[xshift=10pt]tema.north}{500}{400}
\EdD{[xshift=75pt]pley.south}{3902,2773}{tema_secundario}{[xshift=20pt]tema.north}{500}{400}
\draw[fk] ([xshift=90pt]vtc.south) .. controls +(0,300) and +(0,-300) .. (3767,1784) node[lbl]{cuatrienio} .. controls +(0,500) and +(600,0) .. (2600,2448) .. controls +(-200,0) and +(150,0) .. ([yshift=-40pt]per.north east);
\draw[fk] (leg.south) .. controls +(0,150) and +(0,-100) .. (3305,2456) node[lblup]{cuatrienio} .. controls +(-400,0) and +(200,0) .. ([yshift=-55pt]per.north east);
% =============== orden_del_dia
\EdD{[xshift=-5pt]iac.south}{4414,286}{citado}{[xshift=3pt]citado.north}{30}{60}
\draw[fk] ([xshift=50pt]iac.south) -- node[lbl,pos=0.4]{citacion} ([yshift=-28pt]cita.north west);
\draw[fk] ([xshift=-45pt]cac.south) -- node[lbl,pos=0.4]{citado} ([xshift=-4pt]citado.north east);
\draw[fk] ([xshift=8pt]cac.south) -- node[lbl,pos=0.4]{citacion} ([xshift=-30pt]cita.north);
\EdD{[xshift=-100pt]cita.south}{4627,764}{itemdeordendeldia_ptr}{[xshift=-5pt]item.north}{30}{200}
\draw[fk] ([xshift=3pt]cita.south) .. controls +(0,300) and +(0,-300) .. (4746,1274) node[lbl]{orden_del_dia} .. controls +(0,500) and +(200,-150) .. ([xshift=85pt]odd.north);
\EdD{[xshift=55pt]cita.south}{4808,764}{tipo}{tcitn.north}{30}{200}
\draw[fk] ([yshift=-260pt]cita.north east) .. controls +(150,60) and +(0,-500) .. (5010,1300) .. controls +(0,600) and +(0,-400) .. (4470,2438) node[lbl]{tema_principal} .. controls +(0,700) and +(0,-500) .. ([xshift=40pt]tema.north);
\draw[fk] ([yshift=-300pt]cita.north east) .. controls +(250,60) and +(0,-600) .. (5120,1760) .. controls +(0,400) and +(0,-300) .. (4330,2438) node[lbl]{tema_secundario} .. controls +(0,700) and +(0,-500) .. ([xshift=50pt]tema.north);
\EdD{[xshift=-20pt]citado.south}{4323,764}{entidad}{[xshift=10pt]entc.north}{60}{200}
\EdD{citado.south}{4405,764}{cargo}{carc.north}{60}{200}
\draw[fk] ([xshift=-60pt]pod.south) .. controls +(0,200) and +(0,-200) .. (4063,1274) node[lbl]{orden_del_dia} .. controls +(0,500) and +(0,-250) .. ([xshift=-22pt]odd.north);
\EdD{pod.south}{4207,764}{itemdeordendeldia_ptr}{[xshift=-25pt]item.north}{60}{200}
\draw[fk] ([xshift=-40pt]pod.south) .. controls +(0,80) and +(0,-80) .. (3925,764) node[lbl]{proyecto} .. controls +(0,150) and +(100,-150) .. ([xshift=-4pt]pley.north east);
\EdD{[xshift=-10pt]item.south}{4483,1784}{orden_del_dia}{[xshift=45pt]odd.north}{150}{150}
\draw[fk] (odd.south) .. controls +(0,150) and +(0,-100) .. (4150,2446) node[lblup]{cuatrienio} .. controls +(-900,0) and +(200,0) .. ([yshift=-70pt]per.north east);
\end{tikzpicture}
\end{document}
